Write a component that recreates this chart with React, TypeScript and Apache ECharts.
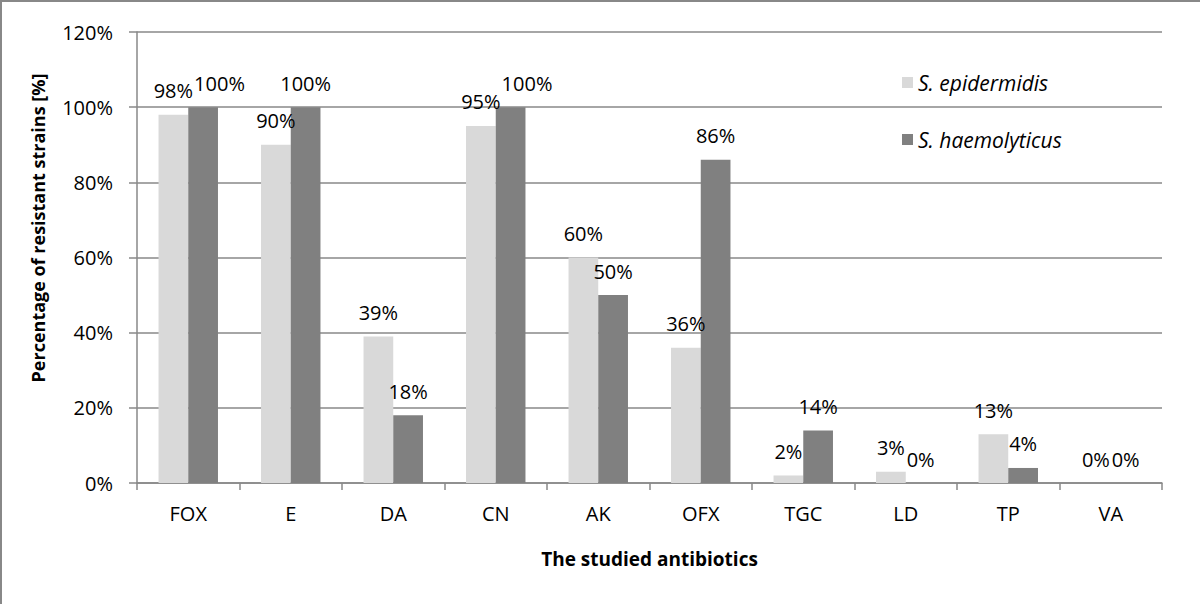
import React, { useEffect, useRef } from "react";
import * as echarts from "echarts";

const categories = ["FOX", "E", "DA", "CN", "AK", "OFX", "TGC", "LD", "TP", "VA"];
const epidermidis = [98, 90, 39, 95, 60, 36, 2, 3, 13, 0];
const haemolyticus = [100, 100, 18, 100, 50, 86, 14, 0, 4, 0];
const seriesNames = ["S. epidermidis", "S. haemolyticus"];
const yTitle = "Percentage of resistant strains [%]";
const xTitle = "The studied antibiotics";

const FONT = "'Open Sans', sans-serif";
const GRID = "#888888";
const LABEL_SIZE = 20;

function measure(text: string): number {
  const c = document.createElement("canvas").getContext("2d");
  if (!c) return text.length * LABEL_SIZE * 0.6;
  c.font = `${LABEL_SIZE}px 'Open Sans', sans-serif`;
  return c.measureText(text).width;
}

export default function App() {
  const ref = useRef<HTMLDivElement>(null);
  useEffect(() => {
    if (!ref.current) return;
    const chart = echarts.init(ref.current, undefined, { renderer: "svg" });
    const label = {
      show: true,
      position: "top",
      distance: 14,
      formatter: "{c}%",
      color: "#000",
      fontFamily: FONT,
      fontSize: LABEL_SIZE,
    };
    const gridTop = 32;
    const gridBottom = 121;
    const yMax = 120;
    const pxPerUnit = (604 - gridTop - gridBottom) / yMax;
    chart.setOption({
      animation: false,
      backgroundColor: "#fff",
      textStyle: { fontFamily: FONT },
      grid: { left: 137, top: gridTop, right: 38, bottom: gridBottom, containLabel: false },
      legend: {
        orient: "vertical",
        left: 902,
        top: 72,
        padding: 0,
        itemWidth: 11,
        itemHeight: 11,
        itemGap: 36,
        icon: "rect",
        textStyle: { fontFamily: FONT, fontSize: 21, fontStyle: "italic", color: "#000" },
        data: seriesNames,
      },
      xAxis: {
        type: "category",
        data: categories,
        name: xTitle,
        nameLocation: "middle",
        nameGap: 66,
        nameTextStyle: { fontFamily: FONT, fontSize: 19, fontWeight: "bold", color: "#000" },
        axisLine: { lineStyle: { color: GRID, width: 1.5 } },
        axisTick: { show: true, length: 7, lineStyle: { color: GRID, width: 1.5 } },
        axisLabel: { margin: 20, fontFamily: FONT, fontSize: 20, color: "#000" },
      },
      yAxis: {
        type: "value",
        min: 0,
        max: yMax,
        interval: 20,
        axisLine: { show: true, lineStyle: { color: GRID, width: 1.5 } },
        axisTick: { show: true, length: 8, lineStyle: { color: GRID, width: 1.5 } },
        axisLabel: { margin: 24, fontFamily: FONT, fontSize: 20, color: "#000", formatter: "{value}%" },
        splitLine: { show: true, lineStyle: { color: GRID, width: 1.5 } },
      },
      series: [
        {
          name: seriesNames[0],
          type: "bar",
          data: epidermidis,
          itemStyle: { color: "#d9d9d9" },
          barGap: "0%",
          barCategoryGap: "42%",
          label,
        },
        {
          name: seriesNames[1],
          type: "bar",
          data: haemolyticus,
          itemStyle: { color: "#808080" },
          barGap: "0%",
          barCategoryGap: "42%",
          label,
          labelLayout: (params: any) => {
            const i = params.dataIndex;
            const lightW = measure(epidermidis[i] + "%");
            const barW = params.rect.width;
            const lightCenter = params.rect.x - barW / 2;
            const lightRight = lightCenter + lightW / 2;
            const darkLeft = params.labelRect.x;
            const dy = Math.abs(epidermidis[i] - haemolyticus[i]) * pxPerUnit;
            if (dy < params.labelRect.height && lightRight > darkLeft) {
              return { dx: lightRight - darkLeft + 1 };
            }
            return {};
          },
        },
      ],
      graphic: [
        {
          type: "rect",
          shape: { x: 1, y: 1, width: 1400, height: 800 },
          style: { fill: "none", stroke: GRID, lineWidth: 2 },
          silent: true,
        },
        {
          type: "text",
          x: 37.5,
          y: 228,
          rotation: Math.PI / 2,
          style: {
            text: yTitle,
            fill: "#000",
            font: `bold 18px ${FONT}`,
            align: "center",
            verticalAlign: "middle",
          },
          silent: true,
        },
      ],
    });
    return () => chart.dispose();
  }, []);
  return (
    <div
      ref={ref}
      style={{ position: "fixed", left: 0, top: 0, width: 1200, height: 604 }}
    />
  );
}
